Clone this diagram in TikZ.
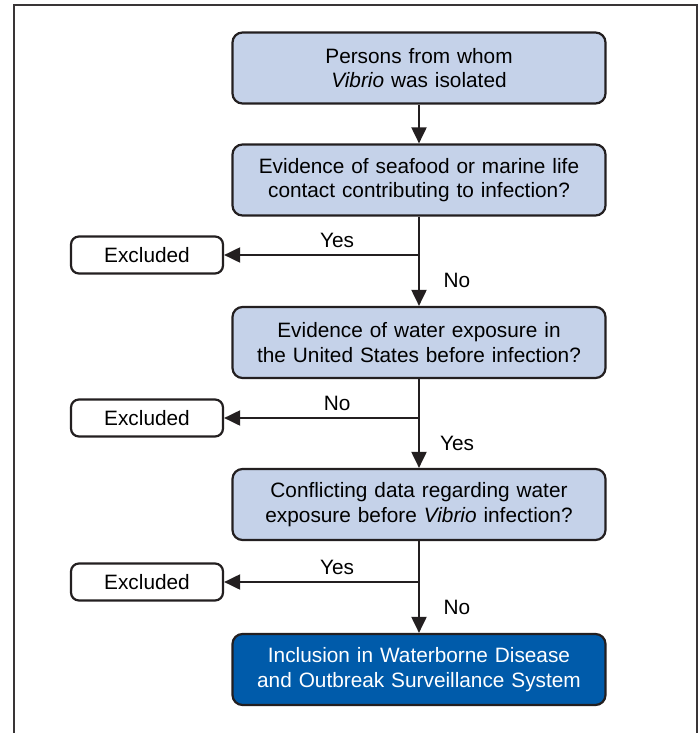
\documentclass[tikz,border=0pt]{standalone}
\usepackage{fontspec}
\setmainfont{Liberation Sans}
\usetikzlibrary{shapes,arrows.meta}
\definecolor{boxblue}{RGB}{197,210,233}
\definecolor{darkblue}{RGB}{0,91,170}
\definecolor{ink}{RGB}{35,31,32}
\tikzstyle{block} = [rectangle, draw=ink, line width=1.1pt, fill=boxblue,
    text width=180pt, align=center, rounded corners=5pt,
    minimum width=186.5pt, minimum height=35.5pt, inner sep=0pt]
\tikzstyle{final} = [block, fill=darkblue, text=white]
\tikzstyle{excl} = [rectangle, draw=ink, line width=1.1pt, fill=white,
    rounded corners=4pt, minimum width=76pt, minimum height=18.5pt]
\tikzstyle{line} = [draw=ink, line width=1pt, -{Triangle[length=8pt,width=7.5pt]}]
\tikzstyle{leftlab} = [pos=0.42, anchor=base, yshift=3.75pt]
\tikzstyle{rightlab} = [xshift=19pt]

\begin{document}
\begin{tikzpicture}[x=0.5pt, y=-0.5pt, font=\fontsize{10.4pt}{12.2pt}\selectfont]
			\useasboundingbox (0,0) rectangle (700,733);
			\draw [ink!90, line width=1pt] (14,745) -- (14,5) -- (697,5) -- (697,745);
			% Place nodes
			\node [block] (pv) at (419,68) {Persons from whom\\\textit{Vibrio} was isolated};
			\node [block, below of=pv, node distance=56pt] (sea) {Evidence of seafood or marine life\\contact contributing to infection?};
			\node [coordinate, below of=sea, node distance=37.5pt] (b1) {};
			\node [block, below of=b1, node distance=43.75pt] (wat) {Evidence of water exposure in\\the United States before infection?};
			\node [coordinate, below of=wat, node distance=37.75pt] (b2) {};
			\node [block, below of=b2, node distance=43.25pt] (con) {Conflicting data regarding water\\exposure before \textit{Vibrio} infection?};
			\node [coordinate, below of=con, node distance=38.75pt] (b3) {};
			\node [final, below of=b3, node distance=43.75pt] (inc) {Inclusion in Waterborne Disease\\and Outbreak Surveillance System};
			\node [excl, left of=b1, node distance=136pt] (ex1) {Excluded};
			\node [excl, left of=b2, node distance=136pt] (ex2) {Excluded};
			\node [excl, left of=b3, node distance=136pt] (ex3) {Excluded};
			% Draw edges
			\path [line] (pv) -- (sea);
			\draw [ink, line width=1pt] (sea) -- (b1);
			\path [line] (b1) -- node [leftlab] {Yes} (ex1);
			\path [line] (b1) -- node [rightlab] {No} (wat);
			\draw [ink, line width=1pt] (wat) -- (b2);
			\path [line] (b2) -- node [leftlab] {No} (ex2);
			\path [line] (b2) -- node [rightlab] {Yes} (con);
			\draw [ink, line width=1pt] (con) -- (b3);
			\path [line] (b3) -- node [leftlab] {Yes} (ex3);
			\path [line] (b3) -- node [rightlab] {No} (inc);
	\end{tikzpicture}
\end{document}
